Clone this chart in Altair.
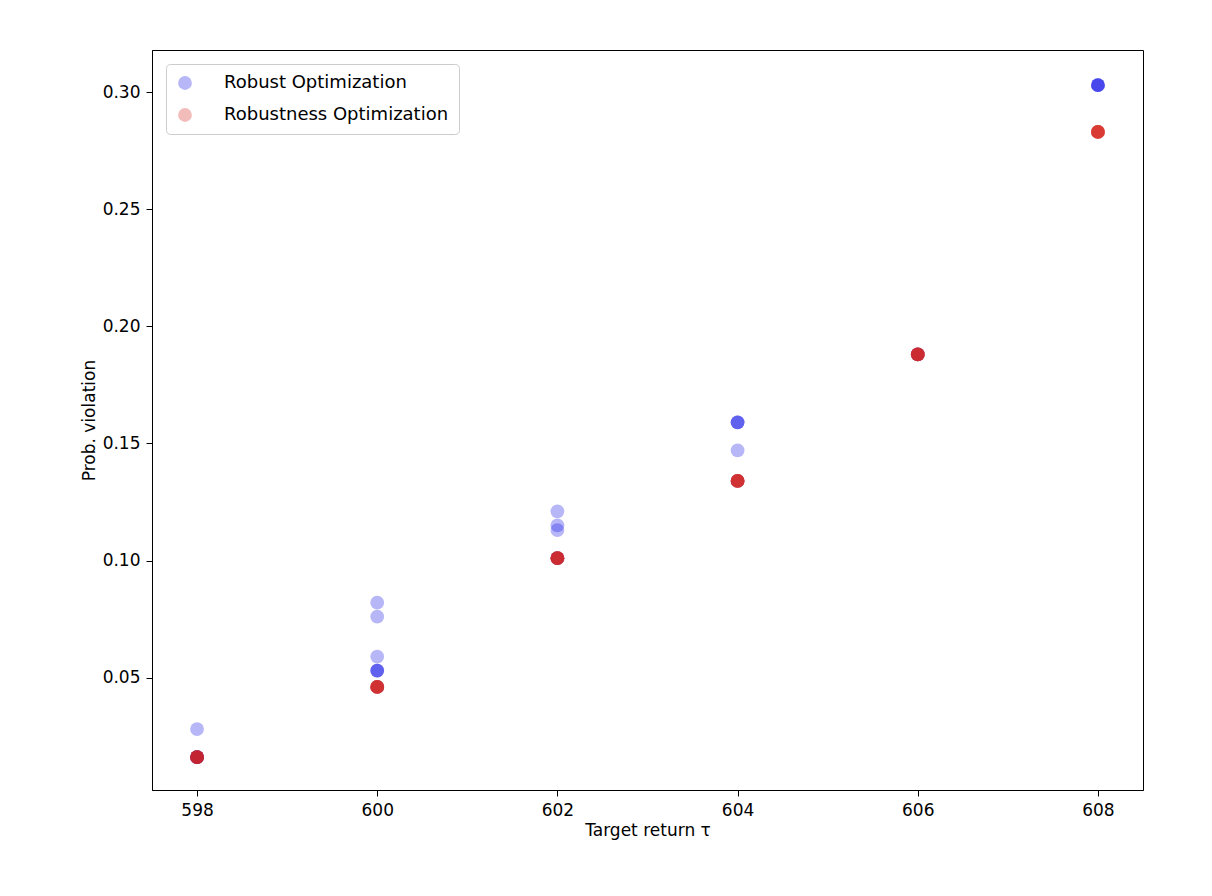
import altair as alt
import pandas as pd

# Robust Optimization (blue), several trials per target, overlapping
robust_x = [598, 598, 598, 598, 598,
            600, 600, 600, 600, 600, 600, 600,
            602, 602, 602, 602, 602,
            604, 604, 604, 604, 604,
            606, 606,
            608, 608, 608, 608]
robust_y = [0.028, 0.016, 0.016, 0.016, 0.016,
            0.082, 0.076, 0.059, 0.053, 0.053, 0.053, 0.046,
            0.121, 0.115, 0.113, 0.101, 0.101,
            0.159, 0.159, 0.159, 0.147, 0.134,
            0.188, 0.188,
            0.303, 0.303, 0.303, 0.303]

# Robustness Optimization (red), identical across trials
robustness_x = [598, 600, 602, 604, 606, 608]
robustness_y = [0.016, 0.046, 0.101, 0.134, 0.188, 0.283]
repeats = 6

rows = [{"x": x, "y": y, "method": "Robust Optimization"} for x, y in zip(robust_x, robust_y)]
for _ in range(repeats):
    rows += [{"x": x, "y": y, "method": "Robustness Optimization"}
             for x, y in zip(robustness_x, robustness_y)]
df = pd.DataFrame(rows)

chart = (
    alt.Chart(df)
    .mark_circle(size=190, opacity=0.3)
    .encode(
        alt.X("x:Q", title="Target return τ",
              scale=alt.Scale(domain=[597.5, 608.5], nice=False, zero=False),
              axis=alt.Axis(values=[598, 600, 602, 604, 606, 608], format="d")),
        alt.Y("y:Q", title="Prob. violation",
              scale=alt.Scale(domain=[0.002, 0.318], nice=False, zero=False),
              axis=alt.Axis(values=[0.05, 0.10, 0.15, 0.20, 0.25, 0.30], format=".2f")),
        alt.Color("method:N", title=None,
                  scale=alt.Scale(domain=["Robust Optimization", "Robustness Optimization"],
                                  range=["#1010e8", "#d4201c"]),
                  legend=alt.Legend(orient="top-left", symbolOpacity=0.3, symbolSize=190,
                                    labelFontSize=18, labelLimit=0, fillColor="white",
                                    strokeColor="#cccccc", padding=10, cornerRadius=4,
                                    rowPadding=14, offset=14, labelOffset=30)),
    )
    .properties(width=991, height=740,
                padding={"left": 72, "top": 42, "right": 5, "bottom": 5})
    .configure_axis(grid=False, domainColor="black", tickColor="black", labelColor="black",
                    labelFontSize=17, titleFontSize=17, titleFontWeight="normal",
                    titleColor="black", labelFont="DejaVu Sans", titleFont="DejaVu Sans",
                    tickSize=6, labelPadding=6)
    .configure_legend(labelFont="DejaVu Sans")
    .configure_view(stroke="black")
)

chart.save("out.html", embed_options={"renderer": "svg", "actions": False})
